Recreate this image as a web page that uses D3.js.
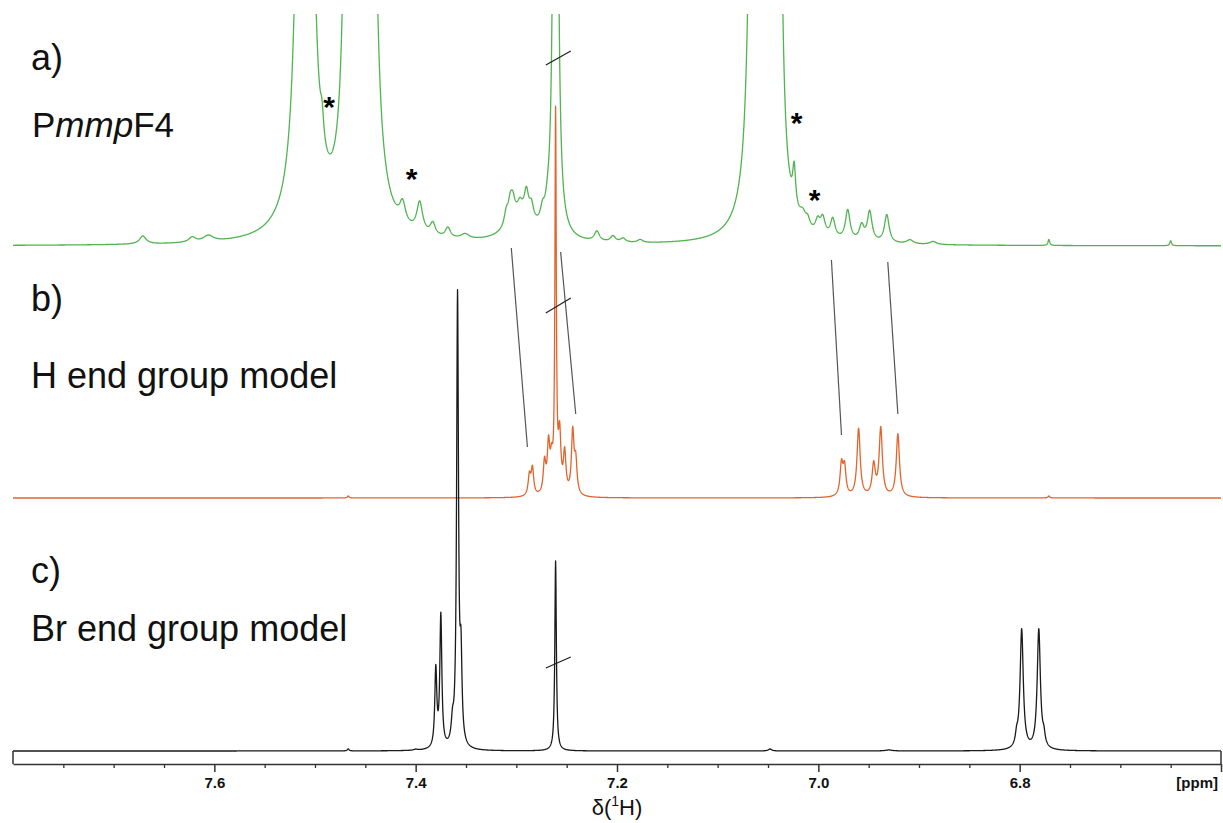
<!DOCTYPE html>
<html>
<head>
<meta charset="utf-8">
<script src="https://cdn.jsdelivr.net/npm/d3@7"></script>
<style>
  body { margin: 0; background: #fff; }
  text { font-family: "Liberation Sans", Arial, sans-serif; }
</style>
</head>
<body>
<script>
// chemical shift axis (ppm), high field on the right like every NMR plot
var ppmRange = [7.8, 6.6];
var majorTicks = [7.6, 7.4, 7.2, 7.0, 6.8, 6.6];
var minorTicks = [7.75, 7.7, 7.65, 7.55, 7.5, 7.45, 7.35, 7.3, 7.25, 7.15, 7.1, 7.05, 6.95, 6.9, 6.85, 6.75, 6.7, 6.65];

// peak lists: [shift ppm, height, half width ppm]
// a) PmmpF4 polymer (green)
var polymerPeaks = [
  [7.671, 8, 0.004], [7.622, 5, 0.004], [7.606, 6, 0.006],
  [7.510, 4480, 0.0025], [7.493, 25, 0.002],
  [7.465, 2080, 0.0025], [7.447, 3200, 0.0025],
  [7.413, 20, 0.0035], [7.396, 30, 0.0035], [7.383, 12, 0.003], [7.368, 10, 0.003], [7.351, 5, 0.005],
  [7.296, 28, 0.014],
  [7.310, 13, 0.0025], [7.306, 18, 0.0025], [7.3035, 16, 0.0025], [7.2965, 8, 0.0025],
  [7.290, 24, 0.0025], [7.285, 15, 0.0025], [7.274, 13, 0.0025], [7.269, 9, 0.0025],
  [7.261, 1500, 0.0015],
  [7.220, 10, 0.003], [7.204, 6, 0.003], [7.194, 4, 0.003], [7.177, 3, 0.003],
  [7.063, 1920, 0.0025], [7.055, 960, 0.0025], [7.041, 1280, 0.0025],
  [7.024, 40, 0.0018], [7.0155, 12, 0.004], [7.0105, 8, 0.0025],
  [7.0006, 13, 0.0028], [6.9956, 17, 0.0028], [6.9857, 19, 0.0028], [6.9708, 30, 0.0028],
  [6.957, 15, 0.0028], [6.949, 30, 0.0028], [6.932, 28, 0.0028],
  [6.909, 4, 0.004], [6.886, 3, 0.004],
  [6.771, 6, 0.001], [6.650, 5, 0.001]
];

// b) H end group model (orange)
var hModelPeaks = [
  [7.467, 2, 0.001],
  [7.287, 20, 0.0015], [7.284, 27, 0.0015],
  [7.272, 31, 0.0015], [7.268, 47, 0.0015], [7.265, 27, 0.0015],
  [7.261, 377, 0.0008],
  [7.257, 56, 0.0015], [7.252, 40, 0.0015], [7.244, 62, 0.0015], [7.241, 32, 0.0015],
  [6.977, 31, 0.0017], [6.974, 28, 0.0017],
  [6.960, 68, 0.0019], [6.945, 31, 0.0019], [6.938, 68, 0.0019], [6.921, 63, 0.0019],
  [6.771, 2, 0.001]
];

// c) Br end group model (black)
var brModelPeaks = [
  [7.467, 2, 0.001], [7.400, 1, 0.002],
  [7.380, 78, 0.0012], [7.375, 132, 0.0012],
  [7.3634, 20, 0.0015], [7.3584, 450, 0.0011], [7.355, 80, 0.0012],
  [7.261, 190, 0.0009],
  [7.048, 2, 0.002], [6.93, 1, 0.004],
  [6.803, 10, 0.0015], [6.798, 120, 0.0019],
  [6.781, 120, 0.0019], [6.776, 10, 0.0015]
];

// guide lines polymer -> H model: [ppm top, ppm bottom]
var guidePpm = [[7.305, 7.289], [7.256, 7.241], [6.987, 6.977], [6.931, 6.921]];
var guideLevels = [[-2, 51], [-6, 84], [-14, 63], [-16, 84]];

// asterisks on the polymer trace: [ppm, level]
var starMarks = [[7.486, 146], [7.404, 74], [7.0215, 130], [7.0036, 53]];

var width = 1223, height = 823;

var svg = d3.select("body").append("svg")
    .attr("width", width)
    .attr("height", height);

var x = d3.scaleLinear().domain(ppmRange).range([13, 1221]);

// one intensity scale per trace, stacked on top of each other
var yA = d3.scaleLinear().domain([0, 100]).range([246, 146]);
var yB = d3.scaleLinear().domain([0, 100]).range([498, 398]);
var yC = d3.scaleLinear().domain([0, 100]).range([751, 651]);

// lorentzian sum on a fine ppm grid
var grid = d3.range(ppmRange[0], ppmRange[1] - 0.0001, -0.0002);
function spectrum(peaks) {
  return grid.map(function(p) {
    var s = 0;
    peaks.forEach(function(pk) {
      var d = p - pk[0];
      s += pk[1] * pk[2] * pk[2] / (d * d + pk[2] * pk[2]);
    });
    return [p, s];
  });
}

svg.append("clipPath").attr("id", "clipA")
  .append("rect").attr("x", 0).attr("y", 14).attr("width", width).attr("height", height);

function drawTrace(peaks, y, color, clip) {
  var path = svg.append("path")
    .datum(spectrum(peaks))
    .attr("fill", "none")
    .attr("stroke", color)
    .attr("stroke-width", 1.3)
    .attr("stroke-linejoin", "round")
    .attr("d", d3.line().x(function(d) { return x(d[0]); }).y(function(d) { return y(d[1]); }));
  if (clip) path.attr("clip-path", "url(#" + clip + ")");
}

drawTrace(polymerPeaks, yA, "#50b450", "clipA");
drawTrace(hModelPeaks, yB, "#e2642c");
drawTrace(brModelPeaks, yC, "#1a1a1a");

// guide lines
svg.selectAll(".guide").data(guidePpm).enter()
  .append("line")
  .attr("class", "guide")
  .attr("x1", function(d) { return x(d[0]); })
  .attr("x2", function(d) { return x(d[1]); })
  .attr("y1", function(d, i) { return yA(guideLevels[i][0]); })
  .attr("y2", function(d, i) { return yB(guideLevels[i][1]); })
  .attr("stroke", "#555")
  .attr("stroke-width", 1.2);

// break marks on the clipped CHCl3 line
var breaks = [[yA, 181, 195], [yB, 185, 200], [yC, 83, 94]];
breaks.forEach(function(b) {
  svg.append("line")
    .attr("x1", x(7.2707)).attr("x2", x(7.2459))
    .attr("y1", b[0](b[1])).attr("y2", b[0](b[2]))
    .attr("stroke", "#222").attr("stroke-width", 1.3);
});

// asterisks
svg.selectAll(".star").data(starMarks).enter()
  .append("text")
  .attr("class", "star")
  .attr("x", function(d) { return x(d[0]); })
  .attr("y", function(d) { return yA(d[1]) + 17; })
  .attr("text-anchor", "middle")
  .style("font-size", "30px")
  .style("font-weight", "bold")
  .text("*");

// trace labels
var labels = [
  {t: "a)", y: 70}, {t: "b)", y: 311}, {t: "c)", y: 583},
  {t: "H end group model", y: 388}, {t: "Br end group model", y: 641}
];
labels.forEach(function(l) {
  svg.append("text").attr("x", 31).attr("y", l.y)
    .style("font-size", "36px").style("fill", "#111").text(l.t);
});
var pl = svg.append("text").attr("x", 32).attr("y", 137)
  .style("font-size", "35px").style("fill", "#111");
pl.append("tspan").text("P");
pl.append("tspan").style("font-style", "italic").text("mmp");
pl.append("tspan").text("F4");

// axis
var axisY = 764;
var major = svg.append("g")
  .attr("transform", "translate(0," + axisY + ")")
  .call(d3.axisBottom(x).tickValues(majorTicks).tickSize(8).tickSizeOuter(0).tickPadding(5)
    .tickFormat(function(d) { return d === 6.6 ? "" : d3.format(".1f")(d); }));
major.select(".domain").attr("stroke", "#333").attr("stroke-width", 1.5);
major.selectAll(".tick line").attr("stroke", "#333").attr("stroke-width", 1.5);
major.selectAll(".tick text")
  .style("font-family", "'Liberation Sans', Arial, sans-serif")
  .style("font-size", "15px").style("font-weight", "bold").attr("fill", "#111");

var minor = svg.append("g")
  .attr("transform", "translate(0," + axisY + ")")
  .call(d3.axisBottom(x).tickValues(minorTicks).tickSize(4).tickSizeOuter(0).tickFormat(""));
minor.select(".domain").remove();
minor.selectAll(".tick line").attr("stroke", "#333").attr("stroke-width", 1.3);

// frame edges up to the bottom trace baseline
ppmRange.forEach(function(p) {
  svg.append("line")
    .attr("x1", x(p)).attr("x2", x(p))
    .attr("y1", yC(0)).attr("y2", axisY)
    .attr("stroke", "#333").attr("stroke-width", 1.5);
});

svg.append("text")
  .attr("x", 1218).attr("y", 788)
  .attr("text-anchor", "end")
  .style("font-size", "15px").style("font-weight", "bold").style("fill", "#111")
  .text("[ppm]");

var ax = svg.append("text")
  .attr("x", x(7.2)).attr("y", 815)
  .attr("text-anchor", "middle")
  .style("font-size", "22px").style("fill", "#111");
ax.append("tspan").text("δ(");
ax.append("tspan").attr("dy", -9).style("font-size", "14px").text("1");
ax.append("tspan").attr("dy", 9).text("H)");
</script>
</body>
</html>
